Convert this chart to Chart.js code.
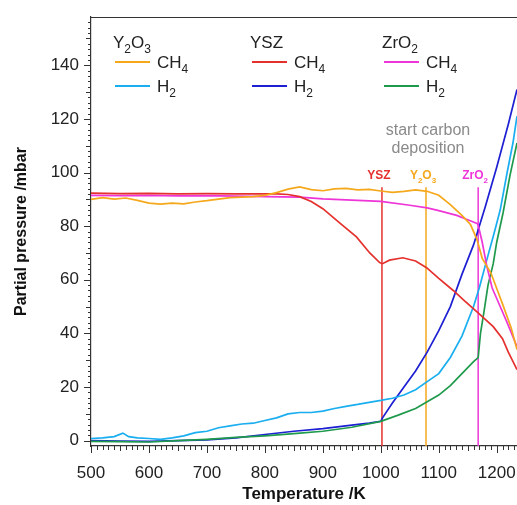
<!DOCTYPE html>
<html>
<head>
<meta charset="utf-8">
<script src="https://cdn.jsdelivr.net/npm/chart.js@4/dist/chart.umd.min.js"></script>
<style>
  html, body { margin: 0; padding: 0; background: #fff; overflow: hidden; }
  #wrap { width: 517px; height: 505px; }
</style>
</head>
<body>
<div id="wrap"><canvas id="grafico" width="517" height="505"></canvas></div>
<script>
// temperature (K) / partial pressure (mbar)
const tY2O3CH4 = [500, 520, 540, 560, 580, 600, 620, 640, 660, 680, 700, 720, 740, 760, 780, 800, 820, 840, 860, 880, 900, 920, 940, 960, 980, 1000, 1020, 1040, 1060, 1080, 1100, 1120, 1140, 1155, 1166, 1175, 1190, 1210, 1225, 1235];
const pY2O3CH4 = [90, 90.6, 90.1, 90.5, 89.6, 88.6, 88.2, 88.6, 88.3, 89, 89.5, 90.1, 90.6, 90.8, 91, 91.5, 92.5, 93.8, 94.6, 93.6, 93.2, 93.9, 94.1, 93.5, 93.7, 93.1, 92.6, 93, 93.5, 93, 91.5, 88, 84, 80.5, 75, 68, 62.5, 51, 42, 34];

const tY2O3H2 = [500, 520, 540, 555, 565, 580, 600, 620, 640, 660, 680, 700, 720, 740, 760, 780, 800, 820, 840, 860, 880, 900, 920, 940, 960, 980, 1000, 1020, 1040, 1060, 1080, 1100, 1120, 1140, 1160, 1170, 1183, 1195, 1206, 1218, 1228, 1235];
const pY2O3H2 = [0.8, 1, 1.5, 2.8, 1.5, 1, 0.8, 0.5, 1, 1.8, 3, 3.5, 4.8, 5.5, 6.2, 6.5, 7.5, 8.5, 10, 10.5, 10.5, 11, 12, 12.8, 13.5, 14.3, 15, 15.8, 17, 19, 22, 25, 31, 39, 50, 57, 67.5, 77, 86, 100, 111, 121];

const tYSZCH4 = [500, 550, 600, 650, 700, 750, 800, 820, 840, 860, 880, 900, 930, 958, 981, 998, 1003, 1015, 1038, 1060, 1079, 1100, 1125, 1145, 1166, 1194, 1210, 1220, 1235];
const pYSZCH4 = [92.3, 92.1, 92.2, 92, 92.1, 92, 92, 92, 91.8, 91, 89.2, 86.5, 81, 76, 70, 66.4, 66, 67.3, 68.2, 67, 64.5, 60.5, 56, 52, 48, 42.5, 38, 33, 26.5];

const tYSZH2 = [500, 550, 600, 650, 700, 750, 800, 850, 900, 950, 980, 1000, 1003, 1020, 1040, 1060, 1080, 1100, 1120, 1140, 1160, 1180, 1200, 1220, 1235];
const pYSZH2 = [0, -0.2, -0.3, 0, 0.3, 1, 2.3, 3.5, 4.5, 5.8, 6.5, 7.2, 8.5, 14, 20, 26, 33, 41, 50, 62, 73, 87, 102, 118, 131];

const tZrO2CH4 = [500, 550, 600, 650, 700, 750, 800, 860, 900, 950, 1000, 1050, 1080, 1100, 1131, 1150, 1166, 1168, 1175, 1183, 1192, 1200, 1218, 1235];
const pZrO2CH4 = [91.5, 91.4, 91.5, 91.3, 91.4, 91.2, 91, 90.8, 90.2, 89.7, 89.2, 87.8, 86.8, 85.8, 84, 82.4, 81, 80.5, 74, 65, 57, 53, 44, 35];

const tZrO2H2 = [500, 550, 600, 650, 700, 750, 800, 850, 900, 950, 1000, 1030, 1060, 1080, 1100, 1120, 1140, 1160, 1168, 1172, 1178, 1185, 1194, 1200, 1211, 1223, 1235];
const pZrO2H2 = [-0.3, -0.4, -0.5, 0, 0.5, 1.2, 1.8, 2.6, 3.5, 5, 7.2, 9.5, 12, 14.5, 17, 20.5, 25, 29.5, 31, 40, 48, 58, 66, 74, 85, 99, 111];

// start of carbon deposition (K) per catalyst
const depositionT = [1002, 1078, 1168];
const depositionLabels = ['YSZ', 'Y_2O_3', 'ZrO_2'];
const depositionTop = 94.5;

const xTicks = [500, 600, 700, 800, 900, 1000, 1100, 1200];
const yTicks = [0, 20, 40, 60, 80, 100, 120, 140];

const legendGroups = ['Y_2O_3', 'YSZ', 'ZrO_2'];
const legendItems = ['CH_4', 'H_2'];

const colores = {
  Y2O3CH4: '#f5a81c', Y2O3H2: '#19aef0',
  YSZCH4: '#e5312e', YSZH2: '#1c1fd2',
  ZrO2CH4: '#ee35d8', ZrO2H2: '#1f9a4c'
};
const depColores = [colores.YSZCH4, colores.Y2O3CH4, colores.ZrO2CH4];

const FAMILIA = '"Liberation Sans", Arial, sans-serif';
Chart.defaults.font.family = FAMILIA;
Chart.defaults.color = '#222';

function puntos(ts, ps) {
  return ts.map((t, i) => ({ x: t, y: ps[i] }));
}

function serie(ts, ps, color) {
  return { data: puntos(ts, ps), borderColor: color, borderWidth: 1.7, pointRadius: 0, tension: 0, fill: false };
}

// text with _n subscripts, e.g. "Y_2O_3"
function partes(str) {
  const out = [];
  let i = 0;
  while (i < str.length) {
    if (str[i] === '_') { out.push({ s: str[i + 1], sub: true }); i += 2; }
    else { out.push({ s: str[i], sub: false }); i++; }
  }
  return out;
}
function textoQuimico(ctx, str, x, y, size, align, bold) {
  const p = partes(str);
  const f = (sub) => (bold ? 'bold ' : '') + (sub ? Math.round(size * 0.68) : size) + 'px ' + FAMILIA;
  let w = 0;
  p.forEach(q => { ctx.font = f(q.sub); w += ctx.measureText(q.s).width; });
  let cx = align === 'center' ? x - w / 2 : x;
  ctx.textAlign = 'left';
  ctx.textBaseline = 'alphabetic';
  p.forEach(q => {
    ctx.font = f(q.sub);
    ctx.fillText(q.s, cx, q.sub ? y + size * 0.28 : y);
    cx += ctx.measureText(q.s).width;
  });
}

const marcoYLeyenda = {
  id: 'marcoYLeyenda',
  afterDraw(chart) {
    const ctx = chart.ctx, a = chart.chartArea;
    const xs = chart.scales.x, ys = chart.scales.y;
    ctx.save();
    ctx.strokeStyle = '#333';
    ctx.lineWidth = 1;
    // top frame
    ctx.beginPath(); ctx.moveTo(a.left, a.top + 0.5); ctx.lineTo(a.right, a.top + 0.5); ctx.stroke();
    // y ticks
    for (let v = 0; v <= 156; v += 2) {
      const y = Math.round(ys.getPixelForValue(v)) + 0.5;
      const len = v % 20 === 0 ? 7 : (v % 10 === 0 ? 5 : 3);
      ctx.beginPath(); ctx.moveTo(a.left - len, y); ctx.lineTo(a.left, y); ctx.stroke();
    }
    // x ticks
    for (let t = 500; t <= 1230; t += 10) {
      const x = Math.round(xs.getPixelForValue(t)) + 0.5;
      const len = t % 100 === 0 ? 7 : (t % 50 === 0 ? 5 : 4);
      ctx.beginPath(); ctx.moveTo(x, a.bottom); ctx.lineTo(x, a.bottom + len); ctx.stroke();
    }

    // legend: three columns
    const colX = [113, 250, 382];
    const claves = [['Y2O3CH4', 'Y2O3H2'], ['YSZCH4', 'YSZH2'], ['ZrO2CH4', 'ZrO2H2']];
    ctx.fillStyle = '#222';
    legendGroups.forEach((g, i) => {
      textoQuimico(ctx, g, colX[i], 48, 17, 'left', false);
      legendItems.forEach((it, j) => {
        const y = 62 + j * 24;
        ctx.strokeStyle = colores[claves[i][j]];
        ctx.lineWidth = 1.8;
        ctx.beginPath(); ctx.moveTo(colX[i] + 2, y); ctx.lineTo(colX[i] + 37, y); ctx.stroke();
        ctx.fillStyle = '#222';
        textoQuimico(ctx, it, colX[i] + 44, y + 6, 17, 'left', false);
      });
    });

    // annotation
    ctx.fillStyle = '#8a8a8a';
    ctx.font = '16px ' + FAMILIA;
    ctx.textAlign = 'center';
    ctx.textBaseline = 'middle';
    ctx.fillText('start carbon', 428, 131);
    ctx.fillText('deposition', 428, 149);
    depositionT.forEach((t, i) => {
      ctx.fillStyle = depColores[i];
      const x = xs.getPixelForValue(t) - 3;
      textoQuimico(ctx, depositionLabels[i], x, ys.getPixelForValue(depositionTop) - 8, 12, 'center', true);
    });
    ctx.restore();
  }
};

const datasets = [
  serie(tY2O3CH4, pY2O3CH4, colores.Y2O3CH4),
  serie(tYSZCH4, pYSZCH4, colores.YSZCH4),
  serie(tZrO2CH4, pZrO2CH4, colores.ZrO2CH4),
  serie(tY2O3H2, pY2O3H2, colores.Y2O3H2),
  serie(tZrO2H2, pZrO2H2, colores.ZrO2H2),
  serie(tYSZH2, pYSZH2, colores.YSZH2)
];
depositionT.forEach((t, i) => {
  datasets.push({ data: [{ x: t, y: -2 }, { x: t, y: depositionTop }], borderColor: depColores[i], borderWidth: 1.5, pointRadius: 0 });
});

new Chart(document.getElementById('grafico'), {
  type: 'line',
  data: { datasets },
  options: {
    responsive: false,
    animation: false,
    layout: { padding: { top: 17, right: 0, left: 0, bottom: 0 } },
    plugins: { legend: { display: false }, tooltip: { enabled: false } },
    scales: {
      x: {
        type: 'linear',
        min: 500,
        max: 1235,
        afterBuildTicks: s => { s.ticks = xTicks.map(v => ({ value: v })); },
        afterFit: s => { s.height = 59; s.paddingLeft = 0; s.paddingRight = 0; },
        grid: { display: true, drawOnChartArea: false, drawTicks: false },
        border: { color: '#333', width: 1.2 },
        ticks: { padding: 17, font: { size: 17 }, color: '#222', maxRotation: 0, callback: v => String(v) },
        title: { display: true, text: 'Temperature /K', font: { size: 17, weight: 'bold' }, color: '#111', padding: { top: 0, bottom: 0 } }
      },
      y: {
        min: -2,
        max: 158,
        afterBuildTicks: s => { s.ticks = yTicks.map(v => ({ value: v })); },
        afterFit: s => { s.width = 91; s.paddingTop = 0; s.paddingBottom = 0; },
        grid: { display: true, drawOnChartArea: false, drawTicks: false },
        border: { color: '#333', width: 1.2 },
        ticks: { padding: 12, font: { size: 17 }, color: '#222', callback: v => String(v) },
        title: { display: true, text: 'Partial pressure /mbar', font: { size: 16, weight: 'bold' }, color: '#111', padding: { top: 12, bottom: 0 } }
      }
    }
  },
  plugins: [marcoYLeyenda]
});
</script>
</body>
</html>
